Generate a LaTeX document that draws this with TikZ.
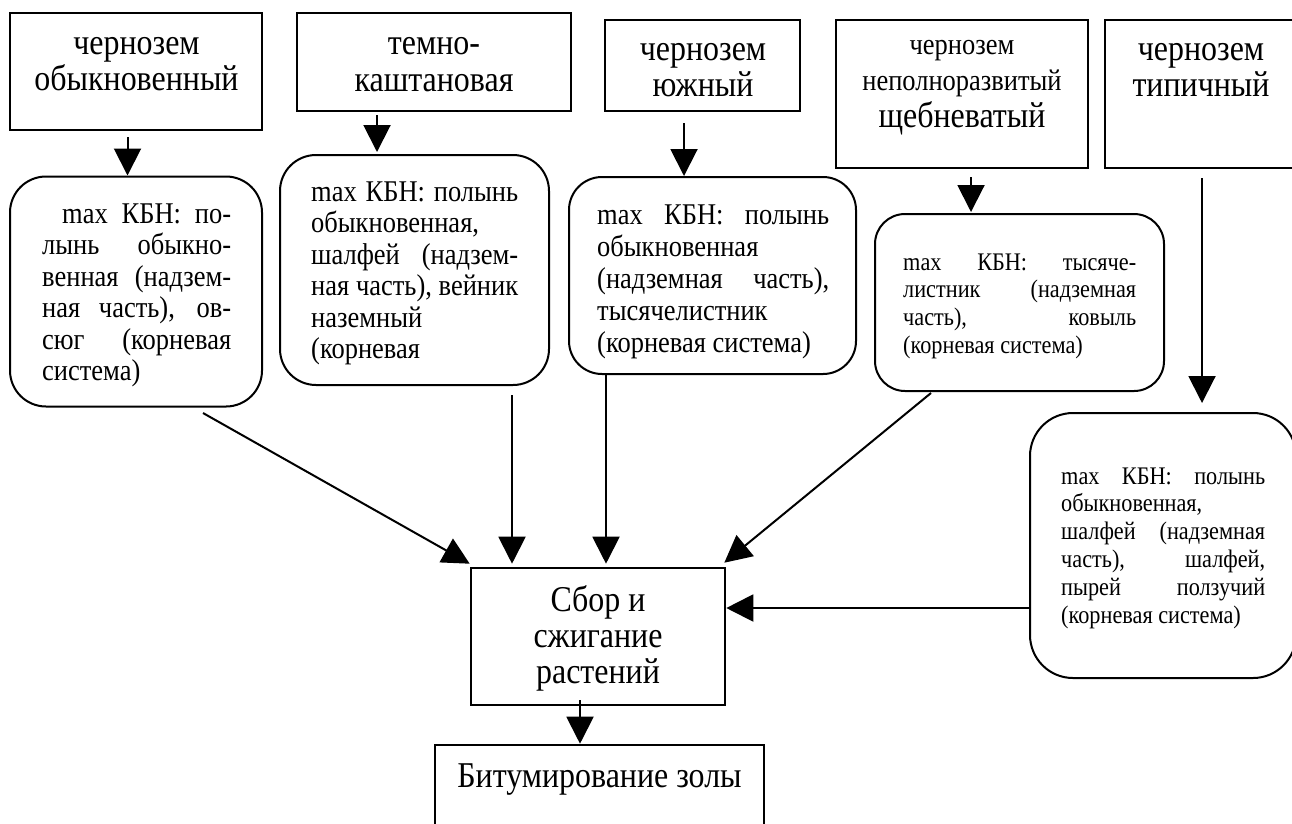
\documentclass[tikz,border=0pt]{standalone}
\usepackage{fontspec}
\setmainfont{Liberation Serif}[FakeStretch=0.88]
\usetikzlibrary{arrows.meta}
\tikzset{
  box/.style={draw, line width=2.8pt, inner sep=0pt},
  rbox/.style={draw, line width=2pt, inner sep=0pt},
  conn/.style={line width=2pt, -{Triangle[length=27pt,width=27pt]}},
  txt/.style={inner sep=0pt, anchor=base},
  jtxt/.style={inner sep=0pt, anchor=base west},
}
\newcommand\bigtxt{\fontsize{36.3}{36.5}\selectfont}
\newcommand\midtxt{\fontsize{30.1}{31.5}\selectfont}
\newcommand\smltxt{\fontsize{25.3}{27.8}\selectfont}
\newcommand\jl[2]{\makebox[#1][s]{#2}}
\begin{document}
\begin{tikzpicture}[x=1pt,y=-1pt]
\useasboundingbox (0,0) rectangle (1292,823);
\fill[white] (0,0) rectangle (1292,823);
\clip (0,0) rectangle (1292,823);

% top boxes
\node[box, minimum width=252pt, minimum height=117pt] (b1) at (136,71.5) {};
\node[box, minimum width=274pt, minimum height=98pt] (b2) at (434,62) {};
\node[box, minimum width=195pt, minimum height=91pt] (b3) at (702.5,65.5) {};
\node[box, minimum width=252pt, minimum height=148pt] (b4) at (962,94) {};
\node[box, minimum width=192pt, minimum height=148pt] (b5) at (1201,94) {};

\node[txt] (t1) at (136.5,54) {\parbox[t]{250pt}{\centering\bigtxt чернозем\\обыкновенный}};
\node[txt] (t2) at (434,54.5) {\parbox[t]{270pt}{\centering\bigtxt темно-\\каштановая}};
\node[txt] (t3) at (703,60) {\parbox[t]{190pt}{\centering\bigtxt чернозем\\южный}};
\node[txt] (t4a) at (962,54.5) {\parbox[t]{250pt}{\centering\fontsize{30.1}{36}\selectfont чернозем\\неполноразвитый}};
\node[txt] (t4b) at (962,127) {\bigtxt щебневатый};
\node[txt] (t5) at (1201,60) {\parbox[t]{190pt}{\centering\bigtxt чернозем\\типичный}};

% rounded boxes
\node[rbox, rounded corners=36pt, minimum width=252pt, minimum height=230pt] (r1) at (136,291.5) {};
\node[rbox, rounded corners=36pt, minimum width=269pt, minimum height=230pt] (r2) at (414.5,270) {};
\node[rbox, rounded corners=33pt, minimum width=287pt, minimum height=197pt] (r3) at (712.5,275.5) {};
\node[rbox, rounded corners=30pt, minimum width=289pt, minimum height=177pt] (r4) at (1019.5,302.5) {};
\node[rbox, rounded corners=43pt, minimum width=266pt, minimum height=265pt] (r5) at (1163,545.5) {};

\node[jtxt] (rt1) at (42,223) {\parbox[t]{189pt}{\midtxt
\hspace*{20pt}\jl{169pt}{max КБН: по-}\\
\jl{189pt}{лынь обыкно-}\\
\jl{189pt}{венная (надзем-}\\
\jl{189pt}{ная часть), ов-}\\
\jl{189pt}{сюг (корневая}\\
система)}};

\node[jtxt] (rt2) at (311,201) {\parbox[t]{207pt}{\midtxt
\jl{207pt}{max КБН: полынь}\\
обыкновенная,\\
\jl{207pt}{шалфей (надзем-}\\
\jl{207pt}{ная часть), вейник}\\
наземный\\
(корневая}};

\node[jtxt] (rt3) at (597,224) {\parbox[t]{232pt}{\fontsize{30.1}{32}\selectfont
\jl{232pt}{max КБН: полынь}\\
обыкновенная\\
\jl{232pt}{(надземная часть),}\\
тысячелистник\\
(корневая система)}};

\node[jtxt] (rt4) at (903,270) {\parbox[t]{233pt}{\smltxt
\jl{233pt}{max КБН: тысяче-}\\
\jl{233pt}{листник (надземная}\\
\jl{233pt}{часть), ковыль}\\
(корневая система)}};

\node[jtxt] (rt5) at (1061,484) {\parbox[t]{204pt}{\smltxt
\jl{204pt}{max КБН: полынь}\\
обыкновенная,\\
\jl{204pt}{шалфей (надземная}\\
\jl{204pt}{часть), шалфей,}\\
\jl{204pt}{пырей ползучий}\\
(корневая система)}};

% center and bottom boxes
\node[box, line width=2.6pt, minimum width=254pt, minimum height=137pt] (cb) at (598,636.5) {};
\node[txt] (tc) at (598,611) {\parbox[t]{250pt}{\centering\fontsize{36.3}{36}\selectfont Сбор и\\сжигание\\растений}};
\node[box, line width=2.6pt, minimum width=329pt, minimum height=90pt] (bb) at (599.5,790) {};
\node[txt] (tb) at (599.5,787) {\bigtxt Битумирование золы};

% connectors top -> rounded
\draw[conn] ([xshift=-8.5pt,yshift=-6pt]b1.south) -- ([xshift=-8.5pt]r1.north);
\draw[conn] ([xshift=-57pt,yshift=-3pt]b2.south) -- ([xshift=-37.5pt,yshift=2pt]r2.north);
\draw[conn] ([xshift=-18.5pt,yshift=-11pt]b3.south) -- ([xshift=-28.5pt]r3.north);
\draw[conn] ([xshift=9pt,yshift=-8pt]b4.south) -- ([xshift=-48.5pt,yshift=1pt]r4.north);
\draw[conn] ([xshift=1pt,yshift=-9pt]b5.south) -- ([xshift=39pt,yshift=9pt]r5.north);

% rounded -> center
\draw[conn] ([xshift=67pt,yshift=-5.5pt]r1.south) -- ([yshift=3pt]cb.north west);
\draw[conn] ([xshift=97.5pt,yshift=-9pt]r2.south) -- ([xshift=-86pt,yshift=3pt]cb.north);
\draw[conn] ([xshift=-106.5pt]r3.south) -- ([xshift=8pt,yshift=3pt]cb.north);
\draw[conn] ([xshift=-88.5pt,yshift=-1pt]r4.south) -- ([xshift=-2pt,yshift=4pt]cb.north east);
\draw[conn] ([yshift=-62.5pt]r5.west) -- ([yshift=28.5pt]cb.east);

% center -> bottom
\draw[conn] ([xshift=-18pt,yshift=6pt]cb.south) -- ([xshift=-19.5pt]bb.north);
\end{tikzpicture}
\end{document}
